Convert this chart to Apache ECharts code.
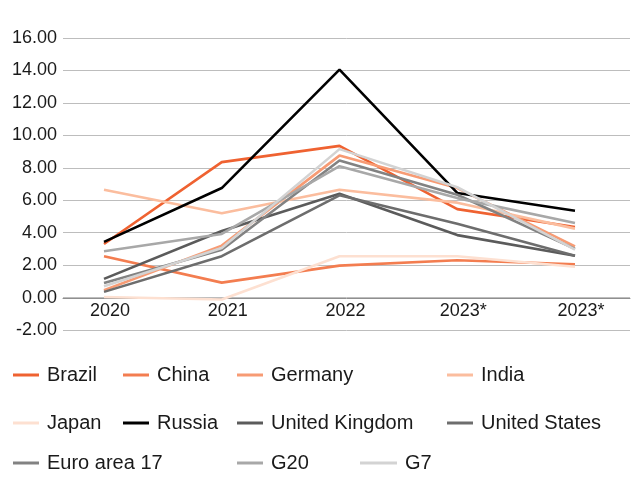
<!DOCTYPE html>
<html>
<head>
<meta charset="utf-8">
<script src="https://cdn.jsdelivr.net/npm/echarts@6/dist/echarts.min.js"></script>
<style>
  html, body { margin: 0; padding: 0; background: #fff; }
  #chart { width: 636px; height: 488px; }
</style>
</head>
<body>
<div id="chart"></div>
<script>
// categories (the source repeats the 2023* label)
const years = ['2020', '2021', '2022', '2023*', '2023*'];

// series values
const brazil = [3.30, 8.35, 9.35, 5.45, 4.35];
const china = [2.55, 0.92, 1.97, 2.30, 2.05];
const germany = [0.45, 3.20, 8.75, 6.75, 3.15];
const india = [6.65, 5.20, 6.65, 5.85, 4.25];
const japan = [0.03, -0.12, 2.55, 2.55, 1.90];
const russia = [3.43, 6.75, 14.05, 6.45, 5.35];
const unitedKingdom = [1.15, 4.10, 6.40, 3.85, 2.58];
const unitedStates = [0.35, 2.55, 6.30, 4.55, 2.58];
const euroArea = [0.90, 2.95, 8.45, 6.34, 3.00];
const g20 = [2.85, 3.92, 8.10, 6.13, 4.60];
const g7 = [0.70, 3.06, 9.15, 6.80, 2.95];

// y axis ticks
const yMin = -2;
const yMax = 16;
const yStep = 2;

const seriesList = [
  { name: 'Brazil', data: brazil, color: '#ef6231' },
  { name: 'China', data: china, color: '#f37d50' },
  { name: 'Germany', data: germany, color: '#f79b74' },
  { name: 'India', data: india, color: '#fbbd9e' },
  { name: 'Japan', data: japan, color: '#fde0d1' },
  { name: 'Russia', data: russia, color: '#000000' },
  { name: 'United Kingdom', data: unitedKingdom, color: '#5b5b5b' },
  { name: 'United States', data: unitedStates, color: '#6d6d6d' },
  { name: 'Euro area 17', data: euroArea, color: '#828282' },
  { name: 'G20', data: g20, color: '#a8a8a8' },
  { name: 'G7', data: g7, color: '#d3d3d3' }
];

const font = 'Liberation Sans, Arial, Helvetica, sans-serif';

//legend: one small legend per entry, placed like the original (3 rows, uneven columns)
const legendSlots = {
  'Brazil': [13, 0], 'China': [123, 0], 'Germany': [237, 0], 'India': [447, 0],
  'Japan': [13, 1], 'Russia': [123, 1], 'United Kingdom': [237, 1], 'United States': [447, 1],
  'Euro area 17': [13, 2], 'G20': [237, 2], 'G7': [360, 2]
};
const rowTops = [364, 412, 452];

const legends = seriesList.map(s => ({
  data: [s.name],
  left: legendSlots[s.name][0],
  top: rowTops[legendSlots[s.name][1]],
  orient: 'horizontal',
  icon: 'rect',
  itemWidth: s.name === 'G7' ? 37 : 26,
  itemHeight: 3,
  itemGap: 0,
  padding: 0,
  selectedMode: false,
  textStyle: { fontFamily: font, fontSize: 20, color: '#1a1a1a', lineHeight: 22, padding: [0, 0, 0, 3] }
}));

// plot area: -2 at the bottom edge, 0 sits 2/18 of the height above it
const plotTop = 38;
const plotBottom = 158;
const zeroLift = Math.round((488 - plotTop - plotBottom) * (0 - yMin) / (yMax - yMin));

const chart = echarts.init(document.getElementById('chart'));

chart.setOption({
  animation: false,
  backgroundColor: '#fff',
  legend: legends,
  grid: [
    // grid 0: only carries the horizontal gridlines and y labels across the whole plot area
    { left: 63, right: 6, top: plotTop, bottom: plotBottom },
    // grid 1: carries the lines, points sit at the category positions
    { left: 104, right: 61, top: plotTop, bottom: plotBottom }
  ],
  xAxis: [
    {
      gridIndex: 0,
      type: 'value',
      min: 0,
      max: 1,
      offset: -zeroLift,
      axisLine: { show: true, onZero: false, lineStyle: { color: '#8f8f8f', width: 1 } },
      axisTick: { show: false },
      axisLabel: { show: false },
      splitLine: { show: false }
    },
    {
      gridIndex: 1,
      type: 'category',
      data: years,
      boundaryGap: false,
      offset: -zeroLift,
      axisLine: { show: false, onZero: false },
      axisTick: { show: false },
      axisLabel: {
        fontFamily: font, fontSize: 18, color: '#1a1a1a',
        margin: 4, lineHeight: 18, padding: [0, 0, 0, 12]
      },
      splitLine: { show: false }
    }
  ],
  yAxis: [
    {
      gridIndex: 0,
      type: 'value',
      min: yMin,
      max: yMax,
      interval: yStep,
      axisLine: { show: false },
      axisTick: { show: false },
      axisLabel: {
        fontFamily: font, fontSize: 18, color: '#1a1a1a', margin: 6,
        formatter: v => v.toFixed(2)
      },
      splitLine: { lineStyle: { color: '#bdbdbd', width: 1 } }
    },
    {
      gridIndex: 1,
      type: 'value',
      min: yMin,
      max: yMax,
      interval: yStep,
      axisLine: { show: false },
      axisTick: { show: false },
      axisLabel: { show: false },
      splitLine: { show: false }
    }
  ],
  series: seriesList.map(s => ({
    name: s.name,
    type: 'line',
    xAxisIndex: 1,
    yAxisIndex: 1,
    data: s.data,
    symbol: 'none',
    color: s.color,
    lineStyle: { color: s.color, width: 2.6 }
  }))
});
</script>
</body>
</html>
